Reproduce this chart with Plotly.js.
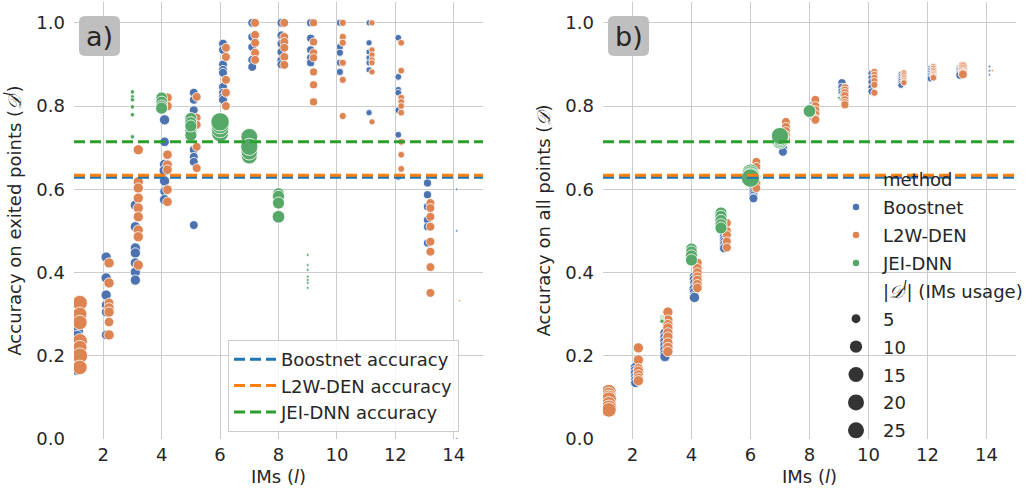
<!DOCTYPE html>
<html><head><meta charset="utf-8">
<script src="https://cdn.plot.ly/plotly-3.0.1.min.js"></script>
<style>html,body{margin:0;padding:0;background:#fff}#chart{width:1034px;height:493px}</style>
</head><body><div id="chart"></div>
<script>
// ---------------- data ----------------
const methods = ["Boostnet", "L2W-DEN", "JEI-DNN"];
const imTicks = [2, 4, 6, 8, 10, 12, 14];
const accTicks = [0.0, 0.2, 0.4, 0.6, 0.8, 1.0];
const sizeLegendValues = [5, 10, 15, 20, 25];

// overall accuracy of each method (dashed lines)
const boostnetAccuracy = 0.629;
const l2wAccuracy = 0.634;
const jeiAccuracy = 0.714;

// Boostnet
const boostIM = [
  1,1,1,1,1,1,
  2,2,2,2,2,2,
  3,3,3,3,3,3,3,
  4,4,4,4,4,4,4,4,
  5,5,5,5,5,5,5,
  6,6,6,6,6,6,6,6,6,
  7,7,7,7,7,
  8,8,8,8,8,8,
  9,9,9,9,9,
  10,10,10,10,10,
  11,11,11,11,11,11,11,
  12,12,12,12,12,12,12,
  13,13,13,13,13,13,
  14,14,14];
const boostExited = [
  0.26,0.245,0.225,0.21,0.19,0.17,
  0.437,0.387,0.346,0.322,0.305,0.25,
  0.562,0.51,0.459,0.447,0.423,0.401,0.382,
  0.80,0.767,0.714,0.66,0.645,0.62,0.595,0.575,
  0.832,0.815,0.79,0.695,0.678,0.666,0.514,
  0.95,0.935,0.90,0.887,0.88,0.846,0.832,0.822,0.815,
  1.0,0.966,0.942,0.911,0.894,
  1.0,0.97,0.95,0.93,0.91,0.90,
  1.0,0.963,0.935,0.916,0.904,
  1.0,0.942,0.928,0.904,0.882,
  1.0,0.952,0.93,0.916,0.904,0.887,0.784,
  0.964,0.87,0.839,0.832,0.79,0.731,0.63,
  0.615,0.587,0.558,0.526,0.51,0.471,
  0.60,0.50,0.0];
const boostAll = [
  0.112,0.105,0.098,0.09,0.08,0.072,
  0.172,0.165,0.158,0.15,0.142,0.135,
  0.255,0.245,0.235,0.225,0.215,0.205,0.198,
  0.39,0.383,0.375,0.365,0.36,0.353,0.345,0.34,
  0.495,0.488,0.48,0.474,0.468,0.462,0.458,
  0.615,0.61,0.605,0.60,0.595,0.59,0.585,0.58,0.578,
  0.73,0.72,0.71,0.70,0.69,
  0.80,0.795,0.79,0.785,0.78,0.775,
  0.856,0.845,0.835,0.828,0.822,
  0.878,0.868,0.858,0.845,0.835,
  0.876,0.872,0.868,0.864,0.86,0.855,0.85,
  0.89,0.886,0.882,0.878,0.874,0.87,0.866,
  0.89,0.887,0.884,0.88,0.877,0.874,
  0.895,0.885,0.875];
const boostUsage = [
  13,13,14,14,15,15,
  8,8,8,7,7,7,
  8,8,8,8,8,8,8,
  8,8,7,8,9,8,7,8,
  6,6,6,6,6,6,6,
  6,6,6,6,6,6,6,6,6,
  6,6,6,6,6,
  6,6,6,6,6,6,
  5,5,5,5,5,
  4,4,4,4,4,
  3,3,3,3,3,3,3,
  3.5,3.5,3.5,3.5,3.5,3.5,3.5,
  5,5,5,5,5,5,
  0.3,0.3,0.3];

// L2W-DEN
const l2wIM = [
  1,1,1,1,1,1,1,
  2,2,2,2,2,2,2,
  3,3,3,3,3,3,3,3,3,
  4,4,4,4,4,4,4,
  5,5,5,5,5,
  6,6,6,6,6,
  7,7,7,7,7,
  8,8,8,8,8,8,
  9,9,9,9,9,9,9,
  10,10,10,10,10,10,
  11,11,11,11,11,11,11,
  12,12,12,12,12,12,12,12,12,
  13,13,13,13,13,13,13,13,
  14];
const l2wExited = [
  0.327,0.30,0.28,0.235,0.22,0.20,0.172,
  0.423,0.375,0.327,0.315,0.305,0.281,0.25,
  0.695,0.618,0.603,0.579,0.555,0.534,0.502,0.486,0.418,
  0.82,0.80,0.683,0.659,0.647,0.599,0.57,
  0.822,0.772,0.755,0.702,0.651,
  0.94,0.918,0.863,0.832,0.80,
  1.0,0.971,0.952,0.928,0.911,
  1.0,0.966,0.954,0.94,0.918,0.899,
  1.0,0.954,0.928,0.916,0.882,0.851,0.81,
  1.0,0.966,0.952,0.904,0.863,0.776,
  1.0,0.935,0.923,0.911,0.904,0.882,0.762,
  0.952,0.885,0.82,0.81,0.80,0.784,0.714,0.683,0.649,
  0.567,0.555,0.534,0.51,0.474,0.45,0.413,0.351,
  0.332];
const l2wAll = [
  0.113,0.107,0.10,0.095,0.085,0.075,0.07,
  0.219,0.19,0.17,0.163,0.154,0.147,0.14,
  0.305,0.286,0.275,0.267,0.255,0.245,0.231,0.22,0.21,
  0.423,0.41,0.40,0.39,0.382,0.372,0.363,
  0.519,0.50,0.49,0.475,0.46,
  0.666,0.654,0.63,0.615,0.603,
  0.762,0.75,0.74,0.73,0.72,
  0.815,0.80,0.79,0.78,0.77,0.767,
  0.844,0.838,0.832,0.825,0.815,0.808,0.803,
  0.882,0.875,0.868,0.86,0.851,0.832,
  0.88,0.875,0.87,0.866,0.862,0.858,0.856,
  0.894,0.89,0.886,0.882,0.878,0.875,0.872,0.87,0.868,
  0.897,0.894,0.89,0.886,0.882,0.88,0.878,0.876,
  0.885];
const l2wUsage = [
  17,15,16,17,15,18,16,
  8,8,7,8,8,7,8,
  8,8,8,8,8,8,8,8,8,
  7,7,7,7,7,7,7,
  6,6,6,6,6,
  6,6,6,6,6,
  6,6,6,6,6,
  6,6,6,6,6,6,
  5,5,5,5,5,5,5,
  4,4,4,4,4,4,
  3,3,3,3,3,3,3,
  3.5,3.5,3.5,3.5,3.5,3.5,3.5,3.5,3.5,
  6,6,6,6,6,6,6,6,
  0.2];

// JEI-DNN
const jeiIM = [
  2,2,2,2,2,2,
  3,3,3,3,3,3,
  4,4,4,4,
  5,5,5,5,5,
  6,6,6,6,
  7,7,7,7,
  8,8,8,8,
  9,9,9,9,9,9,9];
const jeiExited = [
  0.79,0.77,0.735,0.69,0.666,0.627,
  0.834,0.822,0.815,0.798,0.779,0.726,
  0.82,0.81,0.80,0.795,
  0.77,0.76,0.74,0.73,0.752,
  0.735,0.745,0.755,0.762,
  0.68,0.69,0.726,0.702,
  0.59,0.583,0.567,0.534,
  0.442,0.418,0.406,0.39,0.382,0.375,0.363];
const jeiAll = [
  0.214,0.212,0.21,0.208,0.206,0.205,
  0.293,0.291,0.289,0.287,0.285,0.283,
  0.457,0.45,0.44,0.43,
  0.543,0.535,0.525,0.515,0.507,
  0.64,0.635,0.63,0.627,
  0.716,0.72,0.724,0.728,
  0.785,0.787,0.79,0.788,
  0.824,0.823,0.822,0.822,0.821,0.82,0.82];
const jeiUsage = [
  0.05,0.05,0.05,0.05,0.05,0.05,
  1.5,1.5,1.5,1.5,1.5,1.5,
  10,10,11,11,
  11,11,11,11,11,
  22,23,24,25,
  19,20,21,22,
  10,11,11,12,
  0.5,0.5,0.5,0.5,0.5,0.5,0.5];

// ---------------- styles ----------------
const FONT = "DejaVu Sans";
const TXT = "#262626";
const GRID = "#cccccc";
const X_RANGE = [1, 15];
const Y_RANGE = [0, 1.05];
const W = 1034, H = 493;
const EDGE = 0.8;
const dodge = {"Boostnet": 0.1, "L2W-DEN": 0.2, "JEI-DNN": 0.0};
const pointColor = {"Boostnet": "#4c72b0", "L2W-DEN": "#dd8452", "JEI-DNN": "#55a868"};
const lineColor = {"Boostnet": "#1f77b4", "L2W-DEN": "#ff7f0e", "JEI-DNN": "#2ca02c"};
// area grows linearly with usage (as in seaborn's size mapping)
function markerSize(u) { return Math.max(1.2, Math.sqrt(6 + 14.5 * u) - EDGE); }

const series = {
  "Boostnet": {im: boostIM, exited: boostExited, all: boostAll, usage: boostUsage, acc: boostnetAccuracy},
  "L2W-DEN": {im: l2wIM, exited: l2wExited, all: l2wAll, usage: l2wUsage, acc: l2wAccuracy},
  "JEI-DNN": {im: jeiIM, exited: jeiExited, all: jeiAll, usage: jeiUsage, acc: jeiAccuracy}
};

const traces = [];
const panels = [{xa: "x", ya: "y", key: "exited"}, {xa: "x2", ya: "y2", key: "all"}];
panels.forEach(p => {
  methods.forEach(m => {
    const s = series[m];
    traces.push({
      type: "scatter", mode: "markers", xaxis: p.xa, yaxis: p.ya,
      x: s.im.map(v => v + dodge[m]), y: s[p.key],
      marker: {color: pointColor[m], opacity: 1, size: s.usage.map(markerSize), line: {color: "#ffffff", width: EDGE}},
      showlegend: false, hoverinfo: "skip"
    });
  });
});
panels.forEach((p, i) => {
  methods.forEach(m => {
    traces.push({
      type: "scatter", mode: "lines", xaxis: p.xa, yaxis: p.ya,
      x: X_RANGE, y: [series[m].acc, series[m].acc],
      line: {color: lineColor[m], width: 3, dash: "11px,5px"},
      name: m + " accuracy", showlegend: i === 0, legend: "legend", hoverinfo: "skip"
    });
  });
});
// legend 2 (hue + size), entries only
const blank = "rgba(0,0,0,0)";
let g = 0;
function legendEntry(name, color, size) {
  g += 1;
  traces.push({type: "scatter", mode: "markers", xaxis: "x2", yaxis: "y2", x: [null], y: [null],
    name: name, legendgroup: "g" + g, marker: {color: color, opacity: 1, size: size, line: {width: 0}},
    legend: "legend2", showlegend: true, hoverinfo: "skip"});
}
legendEntry("method", blank, 6);
methods.forEach(m => legendEntry(m, pointColor[m], 6.5));
legendEntry("|<i>𝒟</i><sup><i>l</i></sup>| (IMs usage)", blank, 6);
sizeLegendValues.forEach(v => legendEntry(String(v), "#333333", markerSize(v) + EDGE));

function xAxis(dom, anchor) {
  return {domain: dom, anchor: anchor, range: X_RANGE, tickvals: imTicks, showgrid: true, gridcolor: GRID, gridwidth: 1,
    zeroline: false, showline: false, ticks: "", ticklabelstandoff: 3, tickfont: {size: 18, color: TXT},
    title: {text: "IMs (<i>l</i>)", standoff: 6, font: {size: 18, color: TXT}}};
}
function yAxis(anchor, title) {
  return {domain: [1 - 439 / H, 1 - 2 / H], anchor: anchor, range: Y_RANGE, tickvals: accTicks, tickformat: ".1f",
    showgrid: true, gridcolor: GRID, gridwidth: 1, zeroline: false, showline: false, ticks: "", ticklabelstandoff: 8,
    tickfont: {size: 18, color: TXT}, title: {text: title, standoff: 10, font: {size: 18, color: TXT}}};
}
// rounded label boxes (pixel geometry -> paper coords)
function roundedBox(px0, py0, px1, py1, r) {
  const X = v => (v / W).toFixed(5), Y = v => (1 - v / H).toFixed(5);
  return {type: "path", xref: "paper", yref: "paper", fillcolor: "#bfbfbf", line: {width: 0}, layer: "above",
    path: `M${X(px0 + r)},${Y(py0)} L${X(px1 - r)},${Y(py0)} Q${X(px1)},${Y(py0)} ${X(px1)},${Y(py0 + r)} ` +
          `L${X(px1)},${Y(py1 - r)} Q${X(px1)},${Y(py1)} ${X(px1 - r)},${Y(py1)} L${X(px0 + r)},${Y(py1)} ` +
          `Q${X(px0)},${Y(py1)} ${X(px0)},${Y(py1 - r)} L${X(px0)},${Y(py0 + r)} Q${X(px0)},${Y(py0)} ${X(px0 + r)},${Y(py0)} Z`};
}
const layout = {
  width: W, height: H, margin: {l: 0, r: 0, t: 0, b: 0}, paper_bgcolor: "#fff", plot_bgcolor: "#fff",
  font: {family: FONT, size: 18, color: TXT},
  xaxis: xAxis([74 / W, 483 / W], "y"),
  yaxis: yAxis("x", "Accuracy on exited points (<i>𝒟</i><sup><i>l</i></sup>)"),
  xaxis2: xAxis([603 / W, 1016 / W], "y2"),
  yaxis2: yAxis("x2", "Accuracy on all points (<i>𝒟</i>)"),
  legend: {x: 228 / W, y: 1 - 340 / H, xanchor: "left", yanchor: "top", bgcolor: "rgba(255,255,255,0.8)",
    bordercolor: "#cccccc", borderwidth: 1, font: {size: 18, color: TXT}, itemwidth: 42, traceorder: "normal"},
  legend2: {x: 829 / W, y: 1 - 161 / H, xanchor: "left", yanchor: "top", bgcolor: "rgba(0,0,0,0)", borderwidth: 0,
    font: {size: 18, color: TXT}, itemwidth: 44, traceorder: "grouped", tracegroupgap: 1.5, itemsizing: "trace"},
  shapes: [roundedBox(79, 16, 120, 56, 6), roundedBox(608, 16, 649, 56, 6)],
  annotations: [
    {text: "a)", xref: "paper", yref: "paper", x: 99.5 / W, y: 1 - 36 / H, xanchor: "center", yanchor: "middle",
      showarrow: false, font: {size: 27, color: TXT}},
    {text: "b)", xref: "paper", yref: "paper", x: 628.5 / W, y: 1 - 36 / H, xanchor: "center", yanchor: "middle",
      showarrow: false, font: {size: 27, color: TXT}}
  ]
};
Plotly.newPlot("chart", traces, layout, {displayModeBar: false, staticPlot: true});
</script>
</body></html>
